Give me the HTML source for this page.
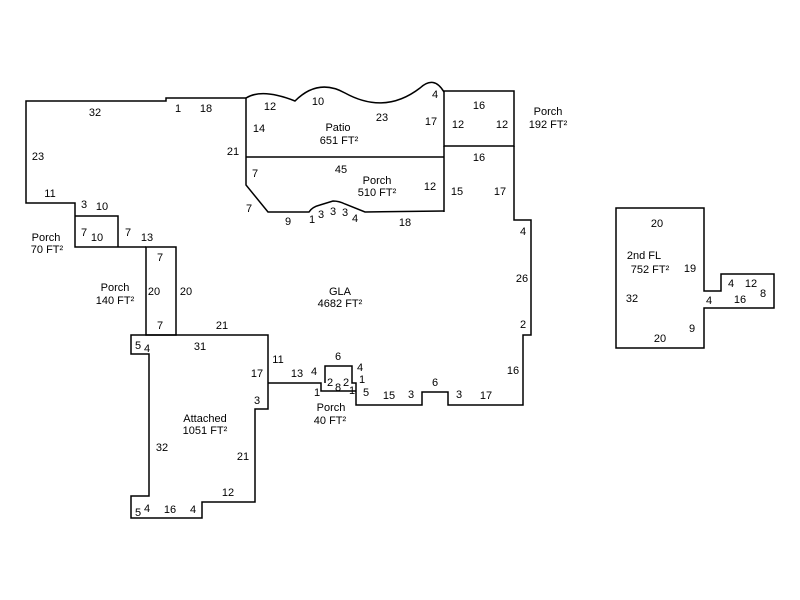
<!DOCTYPE html>
<html><head><meta charset="utf-8"><style>
html,body{margin:0;padding:0;background:#fff;}
svg{display:block;}
text{font-family:"Liberation Sans",Arial,sans-serif;font-size:11px;fill:#000;text-anchor:middle;}
</style></head><body>
<svg width="800" height="600" viewBox="0 0 800 600" xmlns="http://www.w3.org/2000/svg">
<g fill="none" stroke="#000" stroke-width="1.5">
<path d="M246,98 L166,98 L166,101 L26,101 L26,203 L75,203 L75,247 L146,247"/>
<path d="M75,216 L118,216 L118,247"/>
<rect x="146" y="247" width="30" height="88"/>
<path d="M131,335 L268,335 L268,409 L255,409 L255,502 L202,502 L202,518 L131,518 L131,496 L149,496 L149,354 L131,354 Z"/>
<path d="M268,383 L321,383 L321,391 L356,391"/>
<path d="M325,383 L325,366 L352,366 L352,383 L356,383 L356,405 L422,405 L422,392 L448,392 L448,405 L523,405 L523,335 L531,335 L531,220 L514,220 L514,146"/>
<rect x="444" y="91" width="70" height="55"/>
<path d="M444,146 L444,212"/>
<path d="M246,98 L246,185 L268,212 L309,212 Q312,207 320,205 L333,201 Q339,201 345,204 L365,212 L444,211"/>
<path d="M246,157 L444,157"/>
<path d="M246,98 Q262,88 295,101 Q318,78 345,93 Q385,115 420,88 Q434,75 444,92"/>
<path d="M616,208 L704,208 L704,274 L704,291 L721,291 L721,274 L774,274 L774,308 L704,308 L704,348 L616,348 Z"/>
</g>
<g>
<text x="95" y="116">32</text><text x="178" y="112">1</text><text x="206" y="112">18</text>
<text x="38" y="160">23</text><text x="50" y="197">11</text>
<text x="84" y="208">3</text><text x="102" y="210">10</text>
<text x="46" y="241">Porch</text><text x="47" y="253">70 FT²</text>
<text x="84" y="236">7</text><text x="97" y="241">10</text>
<text x="128" y="236">7</text><text x="147" y="241">13</text>
<text x="160" y="261">7</text><text x="154" y="295">20</text><text x="186" y="295">20</text><text x="160" y="329">7</text>
<text x="115" y="291">Porch</text><text x="115" y="304">140 FT²</text>
<text x="222" y="329">21</text><text x="200" y="350">31</text>
<text x="138" y="349">5</text><text x="147" y="352">4</text>
<text x="278" y="363">11</text><text x="257" y="377">17</text><text x="257" y="404">3</text>
<text x="205" y="422">Attached</text><text x="205" y="434">1051 FT²</text>
<text x="162" y="451">32</text><text x="243" y="460">21</text><text x="228" y="496">12</text>
<text x="138" y="516">5</text><text x="147" y="512">4</text><text x="170" y="513">16</text><text x="193" y="513">4</text>
<text x="297" y="377">13</text><text x="314" y="375">4</text>
<text x="338" y="360">6</text><text x="360" y="371">4</text><text x="362" y="383">1</text>
<text x="330" y="386">2</text><text x="338" y="391">8</text><text x="346" y="386">2</text>
<text x="317" y="396">1</text><text x="352" y="394">1</text><text x="366" y="396">5</text>
<text x="331" y="411">Porch</text><text x="330" y="424">40 FT²</text>
<text x="389" y="399">15</text><text x="411" y="398">3</text><text x="435" y="386">6</text><text x="459" y="398">3</text><text x="486" y="399">17</text>
<text x="513" y="374">16</text><text x="523" y="328">2</text><text x="522" y="282">26</text><text x="523" y="235">4</text>
<text x="340" y="295">GLA</text><text x="340" y="307">4682 FT²</text>
<text x="270" y="110">12</text><text x="318" y="105">10</text><text x="382" y="121">23</text><text x="435" y="98">4</text>
<text x="259" y="132">14</text><text x="338" y="131">Patio</text><text x="339" y="144">651 FT²</text><text x="431" y="125">17</text>
<text x="233" y="155">21</text>
<text x="458" y="128">12</text><text x="479" y="109">16</text><text x="502" y="128">12</text>
<text x="548" y="115">Porch</text><text x="548" y="128">192 FT²</text>
<text x="479" y="161">16</text><text x="341" y="173">45</text>
<text x="255" y="177">7</text><text x="377" y="184">Porch</text><text x="377" y="196">510 FT²</text>
<text x="430" y="190">12</text><text x="457" y="195">15</text><text x="500" y="195">17</text>
<text x="249" y="212">7</text><text x="288" y="225">9</text><text x="312" y="223">1</text><text x="321" y="218">3</text>
<text x="333" y="215">3</text><text x="345" y="216">3</text><text x="355" y="222">4</text><text x="405" y="226">18</text>
<text x="657" y="227">20</text><text x="644" y="259">2nd FL</text><text x="650" y="273">752 FT²</text>
<text x="690" y="272">19</text><text x="632" y="302">32</text><text x="709" y="304">4</text>
<text x="731" y="287">4</text><text x="751" y="287">12</text><text x="763" y="297">8</text><text x="740" y="303">16</text>
<text x="692" y="332">9</text><text x="660" y="342">20</text>
</g>
</svg>
</body></html>
